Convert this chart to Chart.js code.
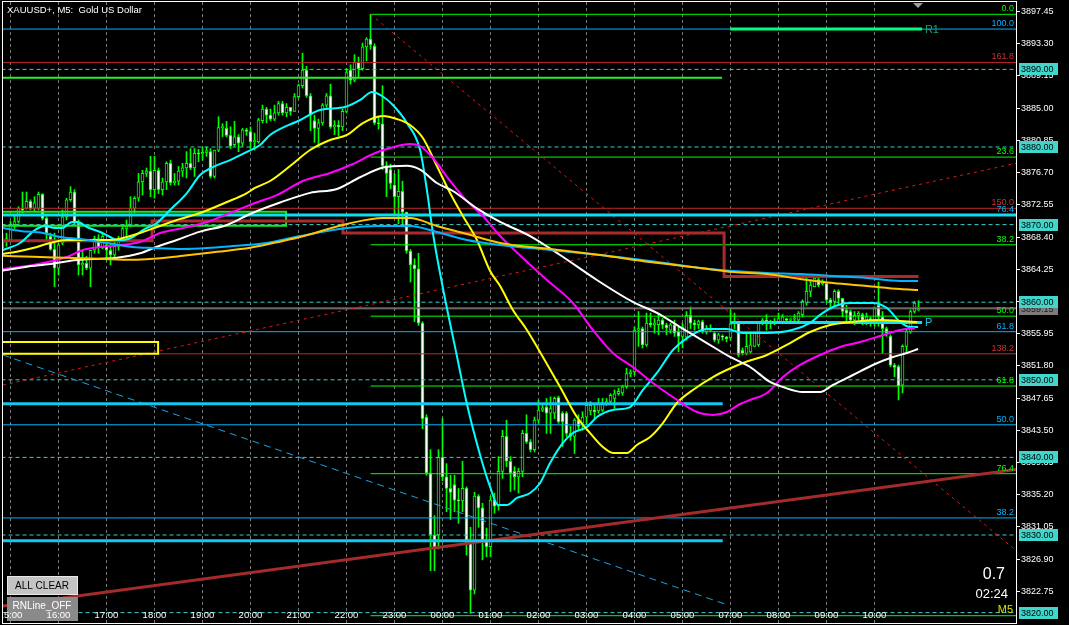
<!DOCTYPE html>
<html>
<head>
<meta charset="utf-8">
<script src="https://cdn.jsdelivr.net/npm/chart.js@4.4.0/dist/chart.umd.min.js"></script>
<style>
  html, body { margin: 0; padding: 0; background: #000; overflow: hidden; }
  canvas { display: block; }
</style>
</head>
<body>
<canvas id="chart" width="1069" height="625"></canvas>
<script>
// bar index 0 = 15:00, one bar every 5 minutes
const firstBar = -2;

const opens = [
  3867.0,3867.8,3868.0,3870.0,3870.4,3872.1,3872.1,3873.0,3872.1,3872.1,
  3873.9,3870.8,3868.5,3866.8,3864.4,3867.6,3871.0,3873.2,3874.2,3870.2,
  3864.8,3865.0,3864.4,3866.7,3868.2,3867.0,3867.4,3866.7,3866.1,3867.2,
  3867.8,3869.5,3869.8,3872.1,3873.4,3875.5,3876.6,3876.9,3874.5,3877.0,
  3874.5,3875.5,3877.9,3875.4,3875.6,3876.9,3877.3,3877.9,3877.3,3879.2,
  3879.1,3879.3,3879.4,3876.2,3879.6,3882.5,3882.4,3881.5,3880.3,3881.3,
  3880.5,3882.2,3882.0,3880.7,3880.7,3883.4,3884.9,3884.1,3883.6,3884.4,
  3885.6,3884.4,3885.1,3884.6,3886.5,3887.9,3889.9,3886.6,3883.4,3882.4,
  3883.1,3885.4,3886.6,3882.6,3882.8,3882.6,3884.6,3889.9,3888.6,3890.9,
  3890.1,3892.9,3893.9,3893.0,3883.1,3883.0,3877.6,3877.1,3875.1,3873.6,
  3874.3,3871.6,3866.6,3864.8,3864.3,3857.3,3845.2,3838.0,3830.0,3830.0,
  3840.0,3837.5,3836.0,3836.5,3834.5,3834.4,3836.0,3829.0,3822.9,3835.0,
  3833.5,3829.4,3828.5,3834.5,3833.7,3838.2,3842.7,3839.5,3838.2,3837.5,
  3838.2,3843.1,3842.0,3841.0,3844.8,3846.1,3846.5,3845.7,3845.7,3847.7,
  3845.7,3845.7,3843.1,3842.7,3844.8,3844.4,3845.2,3846.0,3846.1,3846.0,
  3846.1,3847.0,3847.2,3847.6,3848.2,3848.3,3849.1,3850.8,3851.0,3856.4,
  3856.6,3854.5,3857.3,3857.1,3857.1,3857.7,3857.1,3856.4,3857.1,3856.2,
  3855.6,3855.5,3858.3,3857.3,3857.1,3857.5,3856.2,3856.6,3856.0,3855.1,
  3855.6,3855.5,3855.4,3857.2,3857.3,3853.8,3853.4,3853.6,3854.3,3854.5,
  3857.3,3857.7,3857.5,3857.3,3857.5,3857.5,3857.9,3857.7,3857.8,3857.7,
  3858.4,3859.9,3861.4,3862.0,3862.9,3862.4,3862.4,3860.3,3860.1,3861.4,
  3860.5,3859.0,3858.8,3857.7,3858.3,3858.4,3857.7,3857.9,3857.7,3859.6,
  3858.1,3856.6,3855.6,3851.9,3851.7,3849.3,3854.3,3856.2,3858.8,3859.0
];
const highs = [
  3868.8,3868.9,3870.4,3871.2,3872.3,3874.2,3874.2,3873.2,3873.6,3874.2,
  3874.0,3871.0,3868.9,3868.9,3867.6,3871.9,3873.4,3874.9,3874.5,3870.6,
  3866.7,3865.9,3866.7,3868.5,3868.7,3868.9,3867.8,3867.6,3867.8,3868.5,
  3869.9,3870.6,3873.6,3873.6,3876.6,3877.0,3877.3,3878.8,3878.8,3877.3,
  3876.0,3878.1,3878.3,3876.6,3877.5,3877.9,3879.4,3879.8,3879.8,3879.7,
  3880.0,3880.0,3879.8,3879.6,3883.9,3883.0,3883.3,3882.6,3883.3,3881.6,
  3882.4,3882.4,3882.6,3881.8,3883.7,3885.4,3885.1,3884.9,3885.4,3885.9,
  3885.9,3885.6,3885.1,3886.9,3888.1,3892.1,3890.4,3886.9,3884.1,3883.6,
  3885.6,3886.9,3888.1,3883.4,3883.4,3884.9,3890.1,3890.6,3891.9,3891.6,
  3893.4,3894.1,3897.1,3893.3,3884.0,3887.9,3878.1,3877.8,3876.6,3877.1,
  3875.6,3871.6,3866.8,3865.6,3866.3,3857.5,3845.5,3841.0,3832.5,3841.0,
  3845.0,3839.2,3837.7,3837.7,3836.0,3839.5,3836.2,3831.0,3835.5,3835.2,
  3834.1,3830.9,3835.0,3835.4,3840.1,3843.5,3844.8,3840.1,3838.8,3838.6,
  3843.5,3845.5,3842.3,3845.2,3847.4,3846.7,3847.6,3847.8,3847.8,3847.9,
  3845.9,3845.9,3844.0,3845.0,3845.5,3845.9,3847.2,3847.2,3846.7,3847.6,
  3847.6,3847.6,3848.2,3848.7,3848.9,3849.3,3851.5,3851.3,3856.8,3858.8,
  3856.8,3858.6,3858.6,3857.9,3858.6,3857.9,3857.3,3857.3,3857.7,3856.8,
  3857.3,3858.8,3859.4,3857.7,3857.7,3857.7,3857.0,3857.1,3856.2,3856.0,
  3855.8,3855.6,3859.0,3858.6,3857.5,3854.1,3856.0,3856.0,3856.2,3857.5,
  3857.9,3858.4,3857.7,3857.9,3858.6,3858.4,3857.9,3857.9,3858.4,3858.8,
  3860.3,3863.1,3862.9,3863.5,3863.3,3862.9,3862.6,3860.5,3861.6,3861.6,
  3860.5,3859.6,3859.0,3858.8,3858.8,3858.6,3858.6,3858.1,3859.4,3862.6,
  3858.8,3856.8,3855.8,3852.1,3851.9,3854.5,3856.4,3859.0,3860.1,3860.2
];
const lows = [
  3866.3,3867.2,3867.8,3869.5,3870.2,3871.5,3872.0,3871.9,3871.7,3871.9,
  3870.6,3868.0,3866.7,3862.0,3863.5,3867.4,3870.6,3873.0,3870.0,3863.5,
  3863.5,3864.2,3862.0,3866.3,3866.3,3866.9,3865.4,3864.8,3865.7,3866.7,
  3867.8,3868.2,3869.7,3871.5,3873.0,3873.8,3876.2,3873.6,3873.4,3874.0,
  3873.8,3874.5,3875.1,3875.1,3875.1,3876.2,3876.0,3877.1,3876.2,3878.1,
  3878.3,3878.8,3876.0,3876.0,3879.4,3881.3,3881.3,3879.8,3880.1,3879.4,
  3880.1,3881.5,3879.8,3879.6,3880.5,3883.1,3883.1,3883.4,3883.4,3884.1,
  3884.1,3883.9,3884.1,3884.6,3886.3,3887.6,3886.4,3882.1,3880.6,3880.1,
  3882.8,3885.1,3882.4,3881.6,3881.4,3882.1,3884.4,3888.1,3888.4,3888.9,
  3889.9,3891.1,3892.6,3882.9,3882.3,3877.1,3873.6,3874.6,3871.1,3870.1,
  3869.8,3866.3,3862.6,3857.5,3857.0,3843.7,3837.7,3825.4,3825.4,3828.2,
  3837.0,3833.0,3832.0,3833.0,3831.5,3833.0,3827.4,3819.9,3822.4,3831.0,
  3826.8,3827.2,3827.2,3832.8,3833.2,3837.3,3838.8,3835.6,3835.8,3835.4,
  3837.5,3841.8,3840.7,3840.7,3844.4,3845.9,3843.1,3843.1,3845.0,3844.4,
  3841.4,3842.7,3842.2,3840.5,3843.5,3843.5,3844.2,3845.5,3845.0,3845.7,
  3845.9,3846.7,3846.8,3846.3,3848.0,3848.0,3848.9,3850.4,3850.6,3854.3,
  3854.1,3854.3,3856.8,3856.0,3855.8,3856.6,3855.8,3856.0,3855.6,3853.6,
  3854.1,3855.1,3856.6,3856.4,3856.6,3856.0,3855.9,3856.2,3854.9,3854.7,
  3855.1,3854.9,3855.1,3856.6,3853.0,3853.2,3853.2,3853.4,3854.3,3854.3,
  3857.1,3856.4,3856.6,3857.1,3857.3,3857.3,3857.5,3857.5,3857.5,3857.5,
  3858.1,3859.6,3860.7,3862.0,3862.0,3862.2,3859.9,3859.2,3859.4,3859.6,
  3858.1,3857.5,3857.3,3857.1,3857.7,3857.1,3857.1,3856.9,3856.9,3856.9,
  3853.4,3855.6,3851.7,3850.4,3847.4,3848.3,3853.6,3856.0,3858.6,3858.9
];
const closes = [
  3867.8,3868.2,3869.9,3870.4,3872.1,3871.9,3873.0,3872.1,3872.8,3873.9,
  3870.8,3868.9,3866.8,3864.4,3867.4,3871.0,3873.2,3874.2,3870.2,3864.8,
  3865.0,3864.4,3866.7,3868.2,3867.0,3868.5,3866.7,3866.1,3867.2,3867.8,
  3869.5,3869.8,3872.1,3873.4,3875.5,3876.6,3876.9,3874.5,3877.0,3874.5,
  3875.5,3877.9,3875.4,3875.6,3876.9,3877.3,3877.9,3877.3,3879.2,3879.1,
  3879.3,3879.5,3876.2,3879.6,3882.5,3882.6,3881.5,3880.1,3881.3,3880.5,
  3882.2,3882.0,3880.7,3880.7,3883.5,3884.9,3884.1,3883.6,3884.4,3885.6,
  3884.4,3885.1,3884.6,3886.5,3887.9,3889.9,3886.6,3884.1,3882.4,3883.1,
  3885.4,3886.6,3882.6,3882.8,3882.6,3884.6,3889.6,3888.6,3890.9,3890.1,
  3892.9,3893.9,3893.2,3883.1,3883.0,3877.6,3876.6,3875.3,3873.6,3874.3,
  3871.6,3866.6,3864.8,3864.3,3857.3,3845.0,3838.0,3830.0,3828.4,3840.0,
  3837.5,3836.0,3835.5,3834.5,3834.4,3836.0,3829.0,3822.9,3835.0,3833.5,
  3829.4,3828.5,3834.5,3833.7,3838.2,3842.7,3839.5,3838.0,3837.5,3838.2,
  3843.1,3842.0,3841.0,3844.8,3846.1,3846.4,3845.7,3846.3,3847.6,3844.6,
  3844.6,3843.1,3842.7,3844.8,3844.0,3845.2,3846.7,3846.7,3845.9,3847.0,
  3847.0,3847.2,3848.0,3848.2,3848.5,3849.1,3850.8,3851.0,3856.4,3856.6,
  3854.5,3857.3,3857.1,3857.3,3857.7,3857.1,3856.7,3857.1,3856.0,3855.6,
  3856.8,3858.3,3857.3,3857.1,3857.5,3856.2,3856.6,3856.4,3855.1,3855.8,
  3855.5,3855.3,3857.2,3857.3,3853.2,3853.4,3854.3,3854.5,3856.0,3857.3,
  3857.7,3857.5,3857.3,3857.5,3857.9,3858.1,3857.7,3857.8,3858.0,3858.6,
  3860.1,3861.4,3862.2,3863.1,3862.2,3862.6,3860.3,3859.9,3861.4,3860.5,
  3858.8,3858.6,3857.7,3858.3,3858.6,3857.7,3858.1,3857.3,3859.3,3858.1,
  3856.6,3856.0,3851.9,3851.6,3849.2,3854.3,3856.2,3858.8,3859.9,3859.15
];

const timeTicks = [0,12,24,36,48,60,72,84,96,108,120,132,144,156,168,180,192,204,216];
const timeLabels = ['15:00','16:00','17:00','18:00','19:00','20:00','21:00','22:00','23:00','00:00',
                    '01:00','02:00','03:00','04:00','05:00','07:00','08:00','09:00','10:00'];
const priceTicks = [3897.45,3893.30,3889.15,3885.00,3880.85,3876.70,3872.55,3868.40,3864.25,3860.10,
                    3855.95,3851.80,3847.65,3843.50,3839.35,3835.20,3831.05,3826.90,3822.75];
const roundLevels = [3820,3830,3840,3850,3860,3870,3880,3890];
const bidPrice = 3859.15;
const askPrice = 3859.29;

// moving averages: bar position / price
const cyanX = [-1.9,2.4,6.1,8.6,11.1,12.9,15.4,16.9,19.1,22.4,24.9,26.6,28.1,30.6,33.1,36.6,39.9,44.1,47.4,50.6,54.9,59.1,62.4,64.9,72.4,77.4,83.6,87.4,90.4,92.9,95.6,99.1,102.4,104.1,105.6,108.1,111.6,114.1,117.4,119.9,121.9,124.1,126.6,129.9,132.4,134.9,138.1,140.6,144.1,146.6,150.6,154.9,158.1,161.6,165.6,169.1,174.1,179.1,183.1,189.1,195.6,199.9,202.4,205.6,209.9,215.6,219.1,222.4,224.9,226.9];
const cyanY = [3866.73,3867.63,3869.30,3869.82,3869.56,3869.56,3870.34,3870.34,3869.69,3869.05,3868.40,3868.02,3868.02,3868.40,3869.30,3870.21,3871.88,3874.07,3876.39,3877.42,3878.32,3879.36,3880.26,3881.55,3883.48,3884.77,3885.15,3886.06,3887.09,3886.57,3885.41,3883.09,3879.61,3874.46,3868.92,3861.83,3853.07,3846.88,3840.31,3836.19,3833.87,3833.87,3834.77,3835.41,3836.70,3839.28,3841.86,3843.14,3843.92,3845.21,3846.11,3846.49,3848.69,3850.88,3853.84,3855.38,3856.55,3856.55,3856.03,3856.03,3856.44,3857.34,3858.37,3859.38,3859.90,3859.90,3859.25,3857.45,3856.80,3856.80];

const yellowX = [-1.9,2.4,5.6,9.9,14.1,20.6,24.9,32.4,36.6,41.6,47.4,54.1,59.1,61.1,64.9,69.9,74.9,79.9,84.1,88.1,93.1,96.6,99.9,103.1,106.6,109.9,113.1,116.6,119.9,122.4,125.6,129.1,133.1,137.4,141.6,144.9,148.1,150.6,154.1,156.6,159.9,163.1,166.6,170.6,175.6,183.1,189.1,194.9,199.9,204.9,209.9,217.4,222.4,226.6];
const yellowY = [3866.21,3866.60,3866.98,3867.63,3868.02,3868.02,3868.02,3868.92,3869.69,3870.59,3871.49,3872.91,3874.07,3874.72,3875.62,3877.55,3879.61,3880.90,3881.55,3883.09,3883.99,3883.61,3882.84,3881.16,3877.55,3874.07,3871.11,3868.02,3864.02,3862.09,3859.00,3856.42,3852.94,3849.07,3845.21,3843.14,3841.34,3840.57,3840.57,3841.60,3842.63,3844.43,3847.01,3848.69,3850.36,3852.16,3853.20,3854.74,3856.16,3857.06,3857.45,3857.71,3857.58,3857.45];

const magentaX = [-1.9,5.6,14.1,18.1,22.4,27.4,32.4,37.4,43.1,49.1,55.6,61.1,66.6,73.1,79.9,85.6,90.6,94.9,99.9,102.4,105.6,109.9,114.1,118.1,122.4,128.1,134.1,140.6,145.6,150.6,155.6,160.6,165.6,171.6,175.6,179.1,182.4,184.9,189.1,193.1,197.4,202.4,207.4,212.4,217.4,222.4,226.1];
const magentaY = [3864.28,3864.79,3865.82,3866.73,3867.11,3867.37,3867.76,3868.92,3869.56,3870.34,3871.65,3872.78,3873.81,3875.62,3876.65,3877.81,3879.10,3879.87,3880.39,3880.13,3878.58,3875.62,3873.04,3871.11,3868.53,3865.70,3862.86,3859.90,3856.42,3853.45,3851.65,3849.59,3847.78,3845.85,3845.46,3845.85,3846.88,3847.40,3848.30,3850.36,3851.91,3853.20,3854.23,3854.87,3855.64,3856.42,3856.68];

const whiteX = [-1.9,4.1,9.9,16.6,22.4,26.6,32.4,36.6,41.6,47.4,54.1,59.9,67.4,74.9,81.6,87.4,93.1,99.1,102.4,106.6,110.6,116.6,122.4,129.9,137.4,146.6,155.6,161.6,167.4,174.1,179.9,184.9,189.9,193.1,198.1,202.4,205.6,210.6,215.6,220.6,224.1,226.9];
const whiteY = [3864.09,3864.57,3864.92,3865.44,3865.61,3865.73,3866.30,3867.15,3868.02,3869.09,3869.95,3871.37,3872.84,3874.09,3874.59,3876.10,3877.35,3877.60,3877.10,3875.36,3874.33,3872.09,3870.34,3868.53,3866.08,3862.86,3860.03,3858.61,3856.80,3854.74,3852.94,3851.65,3849.72,3849.07,3848.43,3848.43,3849.33,3850.62,3851.91,3852.94,3853.45,3853.97];

const blueMaX = [-1.9,2.4,8.1,12.4,17.4,24.1,30.6,35.6,43.1,49.1,55.6,64.1,72.4,84.1,91.6,99.9,106.6,114.1,122.4,134.9,147.4,159.9,172.4,180.6,189.1,197.4,205.6,214.1,222.4,226.9];
const blueMaY = [3869.56,3869.18,3868.92,3868.40,3868.14,3867.63,3867.11,3866.98,3866.86,3866.98,3867.24,3867.63,3868.53,3869.56,3869.82,3869.82,3869.05,3868.02,3867.37,3866.73,3866.08,3865.31,3864.41,3864.02,3863.76,3863.63,3863.38,3863.12,3862.73,3862.73];

const goldX = [-1.9,5.6,14.1,22.4,30.6,35.6,43.1,51.6,59.9,68.1,72.4,84.1,93.1,99.9,106.6,114.1,122.4,134.9,147.4,159.9,172.4,180.6,189.1,197.4,205.6,214.1,222.4,226.9];
const goldY = [3865.98,3865.85,3865.72,3865.59,3865.46,3865.59,3865.98,3866.49,3867.01,3867.89,3868.40,3870.08,3870.85,3870.85,3869.82,3868.79,3867.63,3866.86,3866.08,3865.18,3864.41,3863.89,3863.63,3862.99,3862.47,3862.09,3861.70,3861.57];

// fibonacci objects
const greenFibNames = ['0.0','23.6','38.2','50.0','61.8','76.4'];
const greenFibPrices = [3897.1,3878.7,3867.4,3858.2,3849.2,3837.9];
const greenFibBottom = 3819.6;
const blueFibNames = ['100.0','76.4','61.8','50.0','38.2'];
const blueFibPrices = [3895.2,3871.2,3856.2,3844.2,3832.2];
const redFibNames = ['161.8','150.0','138.2'];
const redFibPrices = [3890.9,3872.1,3853.35];

// pivot style levels
const prevR1 = 3888.93;
const prevPivot = 3871.24;
const prevSupports = [3846.92,3829.27];
const todayR1 = 3895.21;
const todayPivot = 3857.39;
const stepBarX = [-4,35.4,35.4,83.1,83.1,178.4,178.4,227];
const stepBarY = [3867.93,3867.93,3870.45,3870.45,3868.92,3868.92,3863.3,3863.3];

// ---------------------------------------------------------------
const X_MIN = -1.875, X_MAX = 251.375;
const Y_MIN = 3818.66, Y_MAX = 3898.686;
const GREEN = '#00ff00';

function pts(xs, ys) { return xs.map((x, i) => ({ x: x, y: ys[i] })); }

function line(data, color, width, extra) {
  return Object.assign({
    type: 'line', data: data, borderColor: color, borderWidth: width,
    pointRadius: 0, fill: false, tension: 0, order: 5
  }, extra || {});
}
function hline(price, x1, x2, color, width, extra) {
  return line([{ x: x1, y: price }, { x: x2, y: price }], color, width, extra);
}

const bars = opens.map((o, i) => firstBar + i);
const datasets = [];

// round number dashed levels
roundLevels.forEach(v => datasets.push(hline(v, -4, 260, '#35d0c8', 1, { borderDash: [4, 3], order: 9 })));

// fib lines
blueFibPrices.forEach(v => datasets.push(hline(v, -4, 260, '#00b4ff', 1, { order: 8 })));
redFibPrices.forEach(v => datasets.push(hline(v, -4, 260, '#c02828', 1, { order: 8 })));
greenFibPrices.concat([greenFibBottom]).forEach(v => datasets.push(hline(v, 90, 260, GREEN, 1, { order: 8 })));
datasets.push(line([{ x: 90, y: 3897.1 }, { x: 90, y: 3894.1 }], GREEN, 1, { order: 8 }));

// bid / ask
datasets.push(hline(bidPrice, -4, 260, '#8a8a8a', 1, { order: 8 }));
datasets.push(hline(askPrice, -4, 260, '#c83232', 1, { order: 8 }));

// trend lines
datasets.push(line([{ x: 90, y: 3897.1 }, { x: 271, y: 3819.6 }], '#e01818', 1, { borderDash: [3, 4], order: 7 }));
datasets.push(line([{ x: -1.9, y: 3849.32 }, { x: 251.4, y: 3877.9 }], '#e01818', 1, { borderDash: [3, 4], order: 7 }));
datasets.push(line([{ x: -1.9, y: 3853.2 }, { x: 178.6, y: 3821.11 }], '#1ea0e6', 1, { borderDash: [7, 5], order: 7 }));
datasets.push(line([{ x: -1.9, y: 3820.86 }, { x: 251.4, y: 3838.43 }], '#a52a2a', 3, { order: 4 }));

// rectangles
datasets.push(line([{ x: -4, y: 3854.87 }, { x: 36.9, y: 3854.87 }, { x: 36.9, y: 3853.36 }, { x: -4, y: 3853.36 }], '#ffff00', 2, { order: 4 }));
datasets.push(line([{ x: -4, y: 3871.66 }, { x: 68.9, y: 3871.66 }, { x: 68.9, y: 3869.86 }, { x: -4, y: 3869.86 }], '#1ee61e', 2, { order: 4 }));

// pivot levels
datasets.push(hline(prevR1, -4, 177.9, '#2aee2a', 2, { order: 3 }));
datasets.push(hline(prevPivot, -4, 260, '#10dcf0', 3, { order: 3 }));
prevSupports.forEach(v => datasets.push(hline(v, -4, 178.05, '#10c8f0', 3, { order: 3 })));
datasets.push(hline(todayR1, 179.9, 227.9, '#00ff80', 3, { order: 3 }));
datasets.push(hline(todayPivot, 179.9, 227.9, '#10e0f0', 3, { order: 3 }));
datasets.push(line(pts(stepBarX, stepBarY), '#a82c2c', 3, { order: 3 }));

// moving averages
const maOpts = { cubicInterpolationMode: 'monotone', order: 2 };
datasets.push(line(pts(goldX, goldY), '#ffc400', 2, maOpts));
datasets.push(line(pts(blueMaX, blueMaY), '#00b4ff', 2, maOpts));
datasets.push(line(pts(whiteX, whiteY), '#ffffff', 2, maOpts));
datasets.push(line(pts(magentaX, magentaY), '#ff00ff', 2, maOpts));
datasets.push(line(pts(yellowX, yellowY), '#ffff00', 2, maOpts));
datasets.push(line(pts(cyanX, cyanY), '#00ffff', 2, maOpts));

// candles: wicks then bodies
datasets.push({
  type: 'bar', order: 12, grouped: false, barThickness: 1,
  data: bars.map((b, i) => ({ x: b, y: [lows[i], highs[i]] })),
  backgroundColor: GREEN, borderWidth: 0
});
datasets.push({
  type: 'bar', order: 11, grouped: false, barThickness: 3, minBarLength: 1,
  data: bars.map((b, i) => ({ x: b, y: [Math.min(opens[i], closes[i]), Math.max(opens[i], closes[i])] })),
  backgroundColor: bars.map((b, i) => closes[i] >= opens[i] ? '#000000' : '#ffffff'),
  borderColor: GREEN, borderWidth: 1, borderSkipped: false
});

const FONT = '"Liberation Sans", Arial, sans-serif';

const overlay = {
  id: 'overlay',
  beforeDraw(chart) {
    const c = chart.ctx;
    c.save();
    c.fillStyle = '#000';
    c.fillRect(0, 0, chart.width, chart.height);
    c.restore();
  },
  afterDraw(chart) {
    const c = chart.ctx;
    const xs = chart.scales.x, ys = chart.scales.y;
    const a = chart.chartArea;
    c.save();

    // frame
    c.strokeStyle = '#ffffff';
    c.lineWidth = 1;
    c.strokeRect(a.left - 0.5, a.top - 0.5, a.right - a.left + 1, a.bottom - a.top + 1);

    // fib labels
    c.font = '9px ' + FONT;
    c.textAlign = 'right';
    c.textBaseline = 'alphabetic';
    const lab = (names, prices, color) => {
      c.fillStyle = color;
      names.forEach((n, i) => c.fillText(n, a.right - 2, ys.getPixelForValue(prices[i]) - 3));
    };
    lab(greenFibNames, greenFibPrices, GREEN);
    lab(blueFibNames, blueFibPrices, '#00b4ff');
    lab(redFibNames, redFibPrices, '#c83232');

    // pivot names
    c.textAlign = 'left';
    c.textBaseline = 'middle';
    c.font = '11px ' + FONT;
    c.fillStyle = '#22a060';
    c.fillText('R1', xs.getPixelForValue(228.6), ys.getPixelForValue(todayR1) + 1);
    c.fillStyle = '#20c0e0';
    c.fillText('P', xs.getPixelForValue(228.6), ys.getPixelForValue(todayPivot) + 1);

    // shift marker
    c.fillStyle = '#a0a0a0';
    c.beginPath();
    c.moveTo(913, 3); c.lineTo(923, 3); c.lineTo(918, 8); c.closePath();
    c.fill();

    // title
    c.font = '9.5px ' + FONT;
    c.fillStyle = '#ffffff';
    c.textAlign = 'left';
    c.textBaseline = 'middle';
    c.fillText('XAUUSD+, M5:  Gold US Dollar', 7, 10);

    // price boxes on axis
    c.font = '9px ' + FONT;
    const box = (v, bg, fg, text) => {
      const y = Math.round(ys.getPixelForValue(v));
      c.fillStyle = bg;
      c.fillRect(1019, y - 6, 39, 12);
      c.fillStyle = fg;
      c.textBaseline = 'middle';
      c.fillText(text, 1021, y + 0.5);
    };
    box(bidPrice, '#7c7c7c', '#1e1e1e', bidPrice.toFixed(2));
    roundLevels.forEach(v => box(v, '#40d6cc', '#000000', v.toFixed(2)));

    // spread / timer
    c.fillStyle = '#ffffff';
    c.textAlign = 'right';
    c.font = '16px ' + FONT;
    c.fillText('0.7', 1005, 575);
    c.font = '13px ' + FONT;
    c.fillText('02:24', 1008, 594);
    c.font = '11px ' + FONT;
    c.fillStyle = '#d8e000';
    c.fillText('M5', 1013, 610);

    // buttons
    c.fillStyle = '#c4c4c4';
    c.fillRect(7, 576, 71, 19);
    c.strokeStyle = '#e8e8e8';
    c.strokeRect(7.5, 576.5, 70, 18);
    c.fillStyle = '#000000';
    c.textAlign = 'center';
    c.font = '10px ' + FONT;
    c.fillText('ALL CLEAR', 42, 586);
    c.fillStyle = '#8a8a8a';
    c.fillRect(7, 597, 71, 24);
    c.fillStyle = '#ffffff';
    c.fillText('RNLine_OFF', 42, 606);

    // time labels (drawn over the buttons)
    c.font = '9.5px ' + FONT;
    c.fillStyle = '#ffffff';
    c.textAlign = 'center';
    c.textBaseline = 'middle';
    c.save();
    c.beginPath();
    c.rect(a.left, 0, a.right - a.left, chart.height);
    c.clip();
    timeTicks.forEach((t, i) => c.fillText(timeLabels[i], xs.getPixelForValue(t), 615));
    c.restore();

    c.restore();
  }
};

new Chart(document.getElementById('chart'), {
  type: 'bar',
  data: { datasets: datasets },
  options: {
    responsive: false,
    animation: false,
    devicePixelRatio: 1,
    layout: { padding: { left: 3, top: 2, right: 0, bottom: 2 } },
    plugins: { legend: { display: false }, tooltip: { enabled: false } },
    scales: {
      x: {
        type: 'linear', min: X_MIN, max: X_MAX, offset: false,
        afterBuildTicks: s => { s.ticks = timeTicks.map(v => ({ value: v })); },
        afterFit: s => { s.height = 0; s.paddingLeft = 0; s.paddingRight = 0; },
        grid: { color: '#777777', lineWidth: 1, drawTicks: false, offset: false },
        border: { display: false, dash: [3, 3] },
        ticks: { display: false }
      },
      y: {
        position: 'right', min: Y_MIN, max: Y_MAX,
        afterBuildTicks: s => { s.ticks = priceTicks.map(v => ({ value: v })); },
        afterFit: s => { s.width = 53; s.paddingTop = 0; s.paddingBottom = 0; },
        grid: { drawOnChartArea: false, color: '#ffffff', tickLength: 4 },
        border: { color: '#ffffff' },
        ticks: {
          color: '#ffffff', padding: 1, autoSkip: false,
          font: { family: 'Liberation Sans', size: 9 },
          callback: v => v.toFixed(2)
        }
      }
    }
  },
  plugins: [overlay]
});
</script>
</body>
</html>
